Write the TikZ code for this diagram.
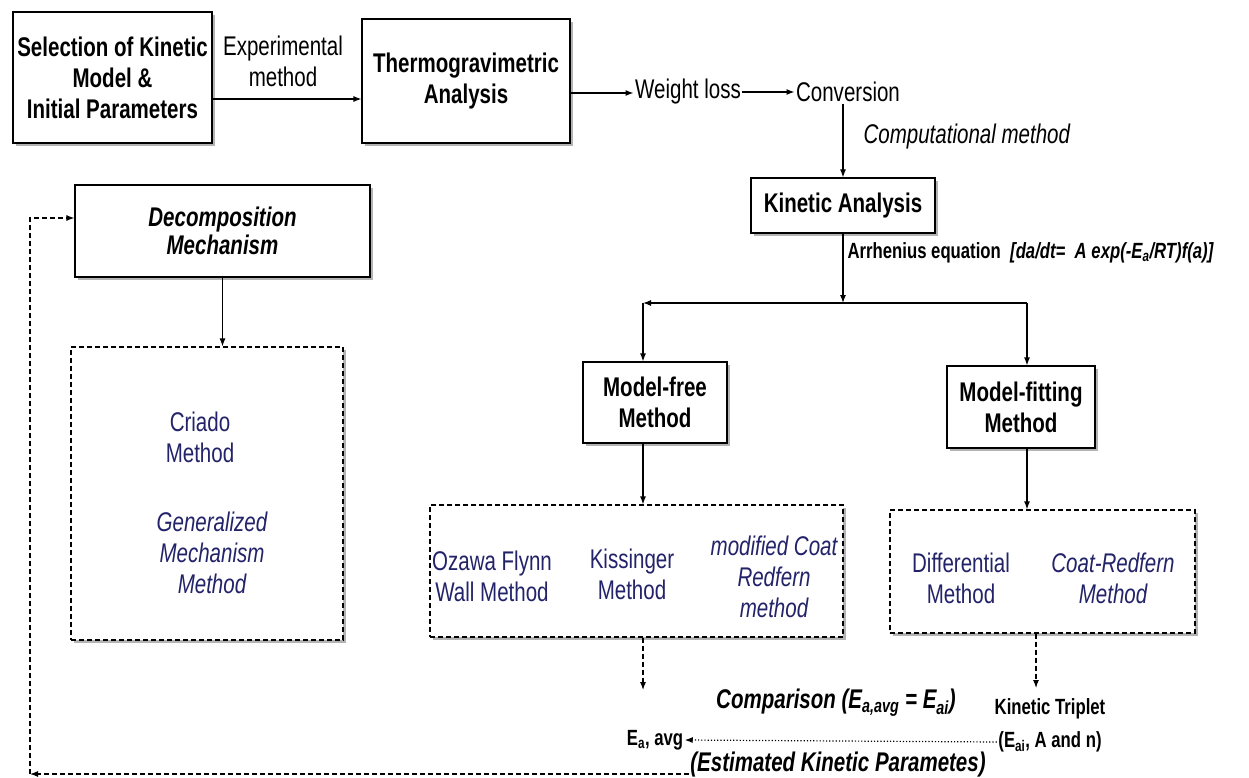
\documentclass[tikz,border=0pt]{standalone}
\usepackage{fontspec}
\setmainfont{Liberation Sans}[FakeStretch=0.76]
\usetikzlibrary{shadows,arrows.meta}
\definecolor{navy}{RGB}{35,35,105}
\tikzset{
	box/.style={draw, fill=white, line width=1.2pt, align=center, inner sep=0pt,
		font=\fontsize{27}{31}\selectfont\bfseries,
		drop shadow={shadow xshift=3pt, shadow yshift=-3pt, fill=gray, opacity=0.6}},
	dbox/.style={box, dash pattern=on 5pt off 3pt, line width=1.2pt},
	dline/.style={dash pattern=on 5pt off 3pt, line width=1.1pt},
	txt/.style={align=center, inner sep=1pt, font=\fontsize{27}{31}\selectfont},
	mtxt/.style={txt, text=navy},
	mtxti/.style={txt, text=navy, font=\fontsize{27}{31}\selectfont\itshape},
	small/.style={align=center, inner sep=1pt, font=\fontsize{22}{30}\selectfont\bfseries},
	note/.style={align=center, inner sep=1pt, font=\fontsize{27}{31}\selectfont\bfseries\itshape}
}
\begin{document}
\begin{tikzpicture}[x=1pt,y=-1pt,>={Latex[length=8pt,width=6pt]},line width=1.2pt]
		\useasboundingbox (0,0) rectangle (1249,778);
		% top row
		\node[box, minimum width=199pt, minimum height=131pt] (sel) at (112.5,77.5) {Selection of Kinetic\\Model \&\\Initial Parameters};
		\node[box, minimum width=208pt, minimum height=124pt] (tga) at (466,81) {Thermogravimetric\\Analysis};
		\node[txt] (expm) at (283,61) {Experimental\\method};
		\node[txt] (wloss) at (688,92) {Weight loss};
		\node[txt] (conv) at (848,92) {Conversion};
		\draw[->] (sel.east |- 0,99) -- (tga.west |- 0,99);
		\draw[->] (tga.east |- 0,93) -- (wloss.west |- 0,93);
		\draw[->] (wloss.east) -- (conv.west);
		
		% kinetic analysis
		\node[box, minimum width=184pt, minimum height=55pt] (ka) at (843,205.5) {Kinetic Analysis};
		\node[txt, font=\fontsize{27}{31}\selectfont\itshape, anchor=west] (comp) at (862,137) {Computational method};
		\draw[->] (conv.south -| ka.north) -- (ka.north);
		\coordinate (split) at (843,303);
		\draw[->] (ka.south) -- (split);
		\node[small, font=\fontsize{22}{24}\selectfont\bfseries, anchor=west] (arrh) at (846,253) {Arrhenius equation \ \textit{[da/dt=\ \ A exp(-E\textsubscript{a}/RT)f(a)]}};
		
		% branches
		\coordinate (bl) at (643,303);
		\coordinate (br) at (1027,303);
		\node[box, minimum width=144pt, minimum height=81pt] (mfree) at (655,402.5) {Model-free\\Method};
		\node[box, minimum width=148pt, minimum height=82pt] (mfit) at (1021,407) {Model-fitting\\Method};
		\draw[->] (split) -- (bl);
		\draw[->] (bl) -- (bl |- mfree.north);
		\draw (split) -- (br);
		\draw[->] (br) -- (br |- mfit.north);
		
		% method boxes
		\node[dbox, minimum width=413pt, minimum height=132pt] (freebox) at (636.5,571) {};
		\node[dbox, minimum width=305pt, minimum height=123pt] (fitbox) at (1042.5,571.5) {};
		\draw[->] (bl |- mfree.south) -- (bl |- freebox.north);
		\draw[->] (br |- mfit.south) -- (br |- fitbox.north);
		\node[mtxt] (ozawa) at (492,576) {Ozawa Flynn\\Wall Method};
		\node[mtxt] (kiss) at (632,574) {Kissinger\\Method};
		\node[mtxti] (mcoat) at (774,577) {modified Coat\\Redfern\\method};
		\node[mtxt] (diff) at (961,578) {Differential\\Method};
		\node[mtxti] (coat) at (1113,578) {Coat-Redfern\\Method};
		
		% mechanism
		\node[box, font=\fontsize{27}{28}\selectfont\bfseries\itshape, minimum width=295pt, minimum height=92pt] (decomp) at (222.5,231) {Decomposition\\Mechanism};
		\node[dbox, minimum width=272pt, minimum height=293pt] (mechbox) at (207,493.5) {};
		\draw[->] (decomp.south) -- (decomp.south |- mechbox.north);
		\node[mtxt] (criado) at (200,437) {Criado\\Method};
		\node[mtxti] (gmm) at (212,553) {Generalized\\Mechanism\\Method};
		
		% comparison
		\node[small] (eavg) at (655,740) {E\textsubscript{a}, avg};
		\node[small] (trip) at (1050,709) {Kinetic Triplet};
		\node[small] (tripb) at (1050,742) {(E\textsubscript{ai}, A and n)};
		\node[note] (cmp) at (836,703) {Comparison (E\textsubscript{a,avg} = E\textsubscript{ai})};
		\node[note] (est) at (838,765) {(Estimated Kinetic Parametes)};
		\coordinate (eavgin) at (643,690);
		\coordinate (tripin) at (1036,688);
		\draw[->, dline] (freebox.south -| eavgin) -- (eavgin);
		\draw[->, dline] (fitbox.south -| tripin) -- (tripin);
		\draw[->, dotted, line width=1.2pt] (tripb.west) -- (eavg.east);
		
		% feedback
		\coordinate (cb) at (30,774);
		\coordinate (ct) at (30,218);
		\draw[->, dline] (est.west |- cb) -- (cb);
		\draw[->, dline] (cb) -- (ct) -- (ct -| decomp.west);
\end{tikzpicture}
\end{document}
